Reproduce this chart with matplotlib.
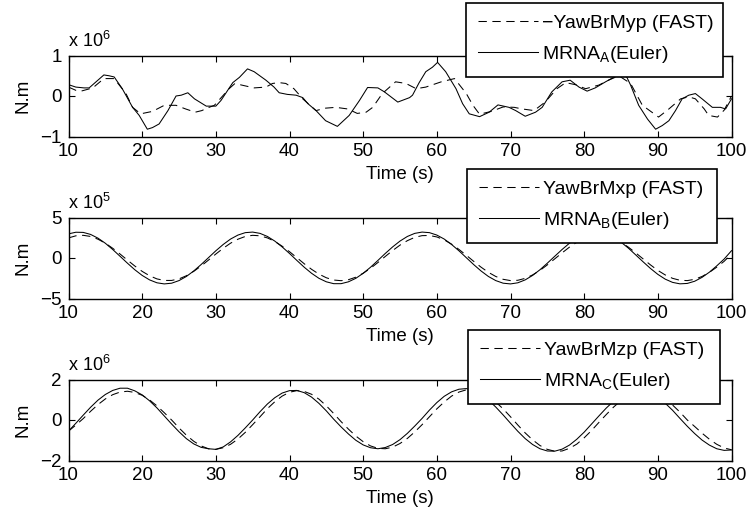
import numpy as np
import matplotlib.pyplot as plt

plt.rcParams['font.family'] = ['Liberation Sans', 'DejaVu Sans']
plt.rcParams['mathtext.fontset'] = 'custom'
plt.rcParams['mathtext.rm'] = 'Liberation Sans'
plt.rcParams['mathtext.it'] = 'Liberation Sans'
plt.rcParams['lines.scale_dashes'] = False

# Tower-top moment about y, in 1e6 N.m
t_mrna_a = [10, 11, 12.1, 12.8, 13.8, 14.8, 15.5, 16.2, 17.3, 18.7, 19.6, 20.7, 21.4, 22.3,
            23.5, 24.6, 25.3, 26.2, 27.1, 28.7, 30.0, 30.7, 32.3, 33.2, 34.3, 35.2, 36.8,
            37.9, 38.6, 39.7, 40.9, 41.8, 42.5, 43.6, 44.9, 46.5, 48.1, 49.5, 50.6, 52.0,
            52.9, 54.7, 56.3, 56.7, 57.6, 58.5, 59.4, 60.1, 61.2, 62.6, 63.5, 64.4, 65.8,
            67.1, 68.3, 69.8, 70.7, 72.0, 73.4, 74.3, 75.6, 77.0, 78.1, 79.3, 80.4, 81.5,
            82.9, 84.0, 85.0, 85.8, 86.3, 87.4, 88.6, 89.7, 90.6, 91.5, 92.4, 93.3, 94.2,
            95.1, 96.0, 97.4, 98.5, 99.2, 100]
mrna_a = [0.28, 0.22, 0.20, 0.20, 0.36, 0.52, 0.50, 0.47, 0.18, -0.28, -0.48, -0.82, -0.78, -0.69,
          -0.36, 0.00, 0.02, 0.08, -0.07, -0.25, -0.25, -0.11, 0.33, 0.46, 0.67, 0.60, 0.39,
          0.22, 0.08, 0.04, 0.02, -0.04, -0.19, -0.36, -0.61, -0.75, -0.48, -0.11, 0.21, 0.20,
          0.10, -0.15, -0.04, 0.02, 0.33, 0.60, 0.71, 0.83, 0.60, 0.18, -0.19, -0.44, -0.51,
          -0.40, -0.22, -0.28, -0.36, -0.50, -0.40, -0.28, 0.10, 0.35, 0.39, 0.22, 0.12, 0.20,
          0.35, 0.46, 0.58, 0.46, 0.27, -0.23, -0.57, -0.82, -0.73, -0.61, -0.36, -0.07, 0.02,
          0.06, -0.07, -0.28, -0.28, -0.32, -0.07]
t_fast_a = [10, 11, 11.7, 13.3, 14.8, 16.2, 17.8, 18.7, 19.8, 21.4, 23.0, 24.6, 25.9, 27.2,
            28.1, 28.8, 29.8, 31.8, 32.6, 33.5, 35.2, 36.8, 37.7, 38.6, 39.5, 40.6, 41.8,
            43.6, 44.9, 46.3, 47.9, 49.2, 50.4, 51.3, 52.6, 54.4, 55.8, 57.2, 58.5, 60.6,
            62.4, 64.0, 64.9, 65.8, 67.4, 69.0, 70.5, 71.6, 73.2, 74.7, 76.3, 77.5, 78.8,
            80.2, 82.0, 83.3, 84.7, 86.3, 87.9, 90.1, 91.5, 93.1, 94.2, 95.1, 96.3, 96.9,
            98.1, 99.0, 100]
fast_a = [0.22, 0.14, 0.12, 0.20, 0.43, 0.43, 0.06, -0.28, -0.44, -0.38, -0.23, -0.23, -0.32, -0.40,
          -0.36, -0.30, -0.23, 0.18, 0.31, 0.27, 0.20, 0.22, 0.31, 0.33, 0.31, 0.18, -0.07,
          -0.36, -0.30, -0.28, -0.32, -0.43, -0.40, -0.28, 0.06, 0.35, 0.31, 0.18, 0.22, 0.35,
          0.43, 0.06, -0.23, -0.45, -0.38, -0.27, -0.28, -0.32, -0.36, -0.15, 0.18, 0.33, 0.28,
          0.18, 0.27, 0.39, 0.50, 0.31, -0.23, -0.52, -0.32, -0.07, -0.02, -0.07, -0.32, -0.48,
          -0.52, -0.35, 0.00]

# Moments about x (1e5 N.m) and z (1e6 N.m), sampled every second
t_bc = list(range(10, 101))
mrna_b = [2.98, 3.18, 3.16, 2.91, 2.45, 1.82, 1.05, 0.21, -0.64, -1.45,
          -2.15, -2.70, -3.06, -3.20, -3.11, -2.79, -2.28, -1.60, -0.81, 0.04,
          0.89, 1.67, 2.34, 2.83, 3.13, 3.20, 3.04, 2.66, 2.09, 1.37,
          0.56, -0.30, -1.14, -1.89, -2.51, -2.94, -3.17, -3.17, -2.94, -2.51,
          -1.89, -1.14, -0.30, 0.56, 1.37, 2.09, 2.66, 3.04, 3.20, 3.13,
          2.83, 2.34, 1.67, 0.89, 0.04, -0.81, -1.60, -2.28, -2.79, -3.11,
          -3.20, -3.06, -2.70, -2.15, -1.45, -0.64, 0.21, 1.05, 1.82, 2.45,
          2.91, 3.16, 3.18, 2.98, 2.56, 1.96, 1.22, 0.38, -0.47, -1.29,
          -2.02, -2.61, -3.01, -3.19, -3.14, -2.87, -2.39, -1.75, -0.97, -0.13,
          0.90]
fast_b = [2.48, 2.74, 2.80, 2.66, 2.32, 1.83, 1.20, 0.49, -0.26, -0.99,
          -1.65, -2.19, -2.58, -2.77, -2.77, -2.58, -2.19, -1.65, -0.99, -0.26,
          0.49, 1.20, 1.83, 2.32, 2.66, 2.80, 2.74, 2.48, 2.05, 1.46,
          0.78, 0.04, -0.71, -1.40, -1.99, -2.44, -2.72, -2.80, -2.68, -2.37,
          -1.88, -1.27, -0.56, 0.19, 0.92, 1.59, 2.14, 2.55, 2.76, 2.78,
          2.60, 2.24, 1.71, 1.06, 0.34, -0.41, -1.13, -1.77, -2.28, -2.63,
          -2.79, -2.75, -2.51, -2.09, -1.53, -0.85, -0.11, 0.63, 1.34, 1.94,
          2.41, 2.70, 2.80, 2.70, 2.41, 1.94, 1.34, 0.63, -0.11, -0.85,
          -1.53, -2.09, -2.51, -2.75, -2.79, -2.63, -2.28, -1.77, -1.13, -0.41,
          0.50]
mrna_c = [-0.55, -0.16, 0.24, 0.63, 0.98, 1.26, 1.46, 1.57, 1.57, 1.44,
          1.24, 0.95, 0.60, 0.20, -0.20, -0.58, -0.92, -1.18, -1.35, -1.42,
          -1.45, -1.33, -1.08, -0.76, -0.39, 0.00, 0.41, 0.79, 1.10, 1.33,
          1.45, 1.46, 1.35, 1.13, 0.82, 0.45, 0.04, -0.34, -0.69, -1.00,
          -1.23, -1.37, -1.42, -1.36, -1.21, -0.97, -0.66, -0.30, 0.08, 0.49,
          0.86, 1.17, 1.39, 1.52, 1.55, 1.46, 1.27, 0.99, 0.64, 0.25,
          -0.16, -0.56, -0.92, -1.21, -1.42, -1.53, -1.54, -1.44, -1.24, -0.95,
          -0.60, -0.20, 0.20, 0.59, 0.93, 1.21, 1.40, 1.49, 1.48, 1.35,
          1.14, 0.83, 0.48, 0.08, -0.31, -0.67, -0.99, -1.24, -1.42, -1.50,
          -1.48]
fast_c = [-0.55, -0.25, 0.07, 0.43, 0.76, 1.04, 1.25, 1.38, 1.42, 1.36,
          1.22, 0.99, 0.70, 0.36, 0.00, -0.39, -0.75, -1.05, -1.28, -1.42,
          -1.45, -1.37, -1.20, -0.94, -0.61, -0.23, 0.16, 0.56, 0.90, 1.18,
          1.37, 1.45, 1.41, 1.27, 1.03, 0.70, 0.32, -0.08, -0.45, -0.79,
          -1.07, -1.28, -1.40, -1.42, -1.34, -1.16, -0.91, -0.59, -0.23, 0.16,
          0.55, 0.89, 1.18, 1.38, 1.49, 1.49, 1.38, 1.18, 0.89, 0.55,
          0.16, -0.25, -0.64, -0.98, -1.26, -1.45, -1.54, -1.53, -1.40, -1.19,
          -0.88, -0.52, -0.12, 0.27, 0.64, 0.96, 1.21, 1.38, 1.45, 1.41,
          1.27, 1.05, 0.74, 0.39, 0.00, -0.32, -0.65, -0.95, -1.20, -1.38,
          -1.47]

fast_labels = ['\u2212YawBrMyp (FAST)', 'YawBrMxp (FAST)', 'YawBrMzp (FAST)']
mrna_labels = ['MRNA$_\\mathregular{A}$(Euler)', 'MRNA$_\\mathregular{B}$(Euler)',
               'MRNA$_\\mathregular{C}$(Euler)']
exponents = [6, 5, 6]
ylims = [1, 5, 2]
xticks = list(range(10, 101, 10))

W, H = 750, 518
fig = plt.figure(figsize=(W / 100, H / 100), dpi=100)

# axes boxes in pixels: left, top, right, bottom
ax_px = [(68.5, 55.5, 731.5, 136.5), (68.5, 217.5, 731.5, 298.5), (68.5, 379.5, 731.5, 460.5)]
leg_px = [(466, 3, 723, 77), (467, 169, 717, 243), (468, 330, 720, 404)]

series = [(t_mrna_a, mrna_a, t_fast_a, fast_a),
          (t_bc, mrna_b, t_bc, fast_b),
          (t_bc, mrna_c, t_bc, fast_c)]

fs = 13.5
for i, (ts, ys, tf, yf) in enumerate(series):
    l, t, r, b = ax_px[i]
    ax = fig.add_axes([l / W, 1 - b / H, (r - l) / W, (b - t) / H])
    hf, = ax.plot(tf, yf, color='k', lw=0.75, dashes=(6, 4))
    hs, = ax.plot(ts, ys, color='k', lw=0.75)
    lim = ylims[i]
    ax.set_xlim(10, 100)
    ax.set_ylim(-lim, lim)
    ax.set_xticks(xticks)
    ax.set_yticks([-lim, 0, lim])
    ax.tick_params(direction='in', top=True, right=True, length=4, width=0.8,
                   labelsize=fs, pad=5)
    for sp in ax.spines.values():
        sp.set_linewidth(1.0)
    ax.set_xlabel('Time (s)', fontsize=fs, labelpad=4)
    ax.set_ylabel('N.m', fontsize=fs, labelpad=6)
    ax.text(0, 1.06, 'x 10$^{%d}$' % exponents[i], transform=ax.transAxes,
            fontsize=13, ha='left', va='bottom')

    ll, lt, lr, lb = leg_px[i]
    leg = ax.legend([hf, hs], [fast_labels[i], mrna_labels[i]],
                    loc='upper left', mode='expand',
                    bbox_to_anchor=(ll / W, 1 - lb / H, (lr - ll) / W, (lb - lt) / H),
                    bbox_transform=fig.transFigure, borderaxespad=0,
                    fontsize=14, handlelength=3.1, handletextpad=0.2,
                    borderpad=0.6, labelspacing=0.6, fancybox=False,
                    framealpha=1, edgecolor='k')
    leg.get_frame().set_linewidth(1.2)

fig.savefig('out.png', dpi=100)
